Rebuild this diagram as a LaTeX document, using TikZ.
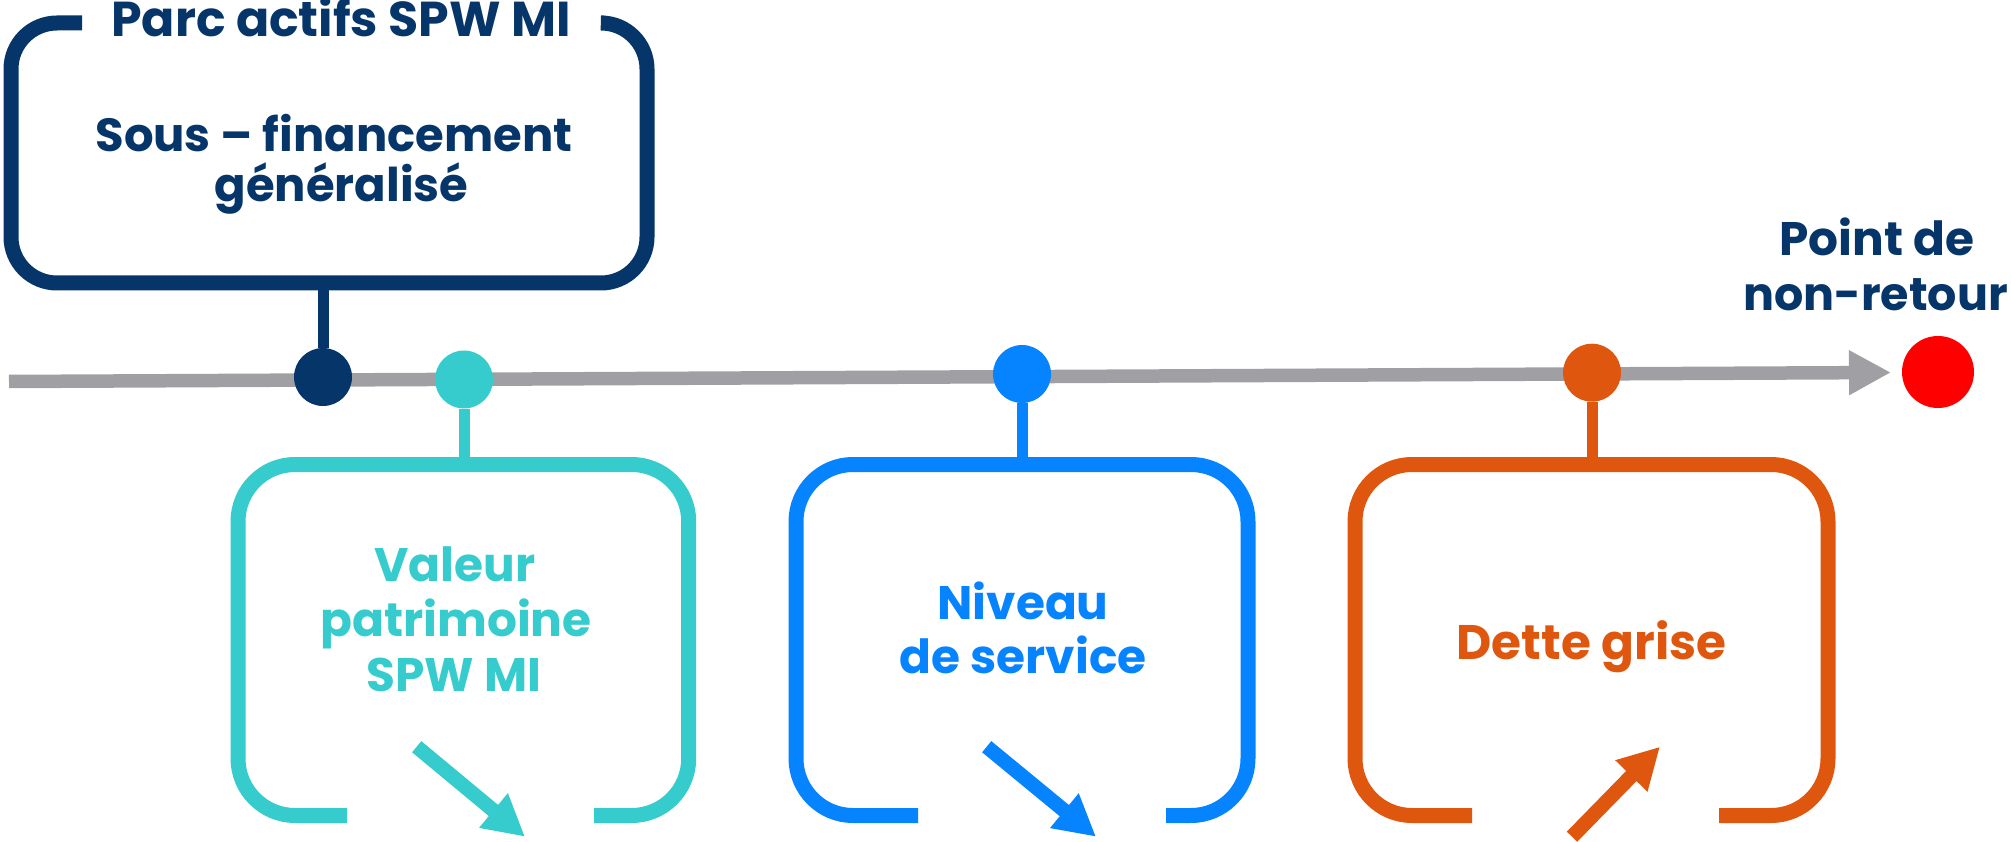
\documentclass[tikz,border=0pt]{standalone}
\usepackage{fontspec}
\setmainfont{Poppins}
\usetikzlibrary{arrows.meta}
\definecolor{navy}{HTML}{06356A}
\definecolor{teal}{HTML}{36CBCC}
\definecolor{azure}{HTML}{0683FF}
\definecolor{rust}{HTML}{DF570E}
\definecolor{ptred}{HTML}{FF0000}
\definecolor{tgray}{HTML}{A09FA4}
\begin{document}
\begin{tikzpicture}[x=1pt,y=-1pt,
  frame/.style={line width=15pt, rounded corners=57pt},
  dot/.style={circle, inner sep=0pt, minimum size=58pt},
  stem/.style={line width=11pt},
  txt/.style={anchor=base, inner sep=0pt},
  boxtxt/.style={txt, font=\fontsize{47}{55}\selectfont\bfseries},
  trend/.style={line width=14.5pt, -{Triangle[length=41pt,width=42pt]}},
]
\useasboundingbox (0,0) rectangle (2011,842);

% timeline
\coordinate (ts) at (9,381.5);
\coordinate (te) at (1891,372.5);
\draw[line width=13.5pt, tgray, -{Triangle[length=42pt,width=42pt]}] (ts) -- (te);
\node[dot, minimum size=72pt, fill=ptred] (dred) at (1938,372) {};

% top box
\draw[frame, navy, rounded corners=46pt] (82,23) -- (11,23) -- (11,283) -- (647,283) -- (647,23) -- (604,23);
\coordinate (b0s) at (323,283);
\node[txt, font=\fontsize{49}{55}\selectfont\bfseries, text=navy] (t0) at (341,37) {Parc actifs SPW MI};
\node[txt, font=\fontsize{46.5}{55}\selectfont\bfseries, text=navy] (t0a) at (334,152) {Sous – financement};
\node[txt, font=\fontsize{46.5}{55}\selectfont\bfseries, text=navy] (t0b) at (341.5,201.7) {généralisé};

% teal box
\draw[frame, teal] (347,815.5) -- (238,815.5) -- (238,464.5) -- (688.7,464.5) -- (688.7,815.5) -- (594,815.5);
\coordinate (b1n) at (464,464.5);
\node[boxtxt, text=teal] (t1a) at (455,581.7) {Valeur};
\node[boxtxt, text=teal] (t1b) at (456,636.7) {patrimoine};
\node[boxtxt, text=teal] (t1c) at (454,691.7) {SPW MI};
\coordinate (a1s) at (416.7,746.7);
\coordinate (a1e) at (525,836.7);
\draw[trend, teal] (a1s) -- (a1e);

% blue box
\draw[frame, azure] (918,815.5) -- (796,815.5) -- (796,464.5) -- (1248,464.5) -- (1248,815.5) -- (1166,815.5);
\coordinate (b2n) at (1022,464.5);
\node[boxtxt, text=azure] (t2a) at (1023,619) {Niveau};
\node[boxtxt, text=azure] (t2b) at (1023,673) {de service};
\coordinate (a2s) at (986.7,746.7);
\coordinate (a2e) at (1096,836.7);
\draw[trend, azure] (a2s) -- (a2e);

% orange box
\draw[frame, rust] (1472,815.5) -- (1355,815.5) -- (1355,464.5) -- (1828,464.5) -- (1828,815.5) -- (1719,815.5);
\coordinate (b3n) at (1592,464.5);
\node[txt, font=\fontsize{48.5}{55}\selectfont\bfseries, text=rust] (t3) at (1591.5,659) {Dette grise};
\coordinate (a3s) at (1572,836.7);
\coordinate (a3e) at (1660,746.7);
\draw[trend, rust] (a3s) -- (a3e);

% dots and stems
\node[dot, fill=navy] (d0) at (323,377) {};
\node[dot, fill=teal] (d1) at (464,379.5) {};
\node[dot, fill=azure] (d2) at (1022,374) {};
\node[dot, fill=rust] (d3) at (1592,372.7) {};
\draw[stem, navy] (b0s) -- (d0);
\draw[stem, teal] (b1n) -- (d1);
\draw[stem, azure] (b2n) -- (d2);
\draw[stem, rust] (b3n) -- (d3);

% point de non-retour
\node[txt, font=\fontsize{47}{55}\selectfont\bfseries, text=navy] (p1) at (1877,256) {Point de};
\node[txt, anchor=base east, font=\fontsize{46}{55}\selectfont\bfseries, text=navy] (p2) at (2008,311) {non-retour};
\end{tikzpicture}
\end{document}
